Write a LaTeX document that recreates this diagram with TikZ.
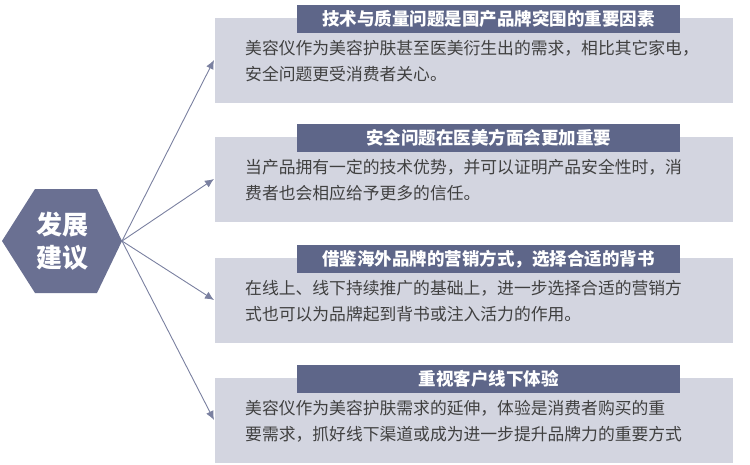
\documentclass[tikz,border=0pt]{standalone}
\usepackage{fontspec}
\setmainfont{Noto Sans CJK SC}
\definecolor{hexc}{HTML}{6A7092}
\definecolor{boxc}{HTML}{D3D5E0}
\definecolor{headc}{HTML}{5E6689}
\definecolor{txt}{HTML}{404040}
\definecolor{arr}{HTML}{7A80A0}
\begin{document}
\begin{tikzpicture}[x=1pt,y=-1pt,
  bx/.style={fill=boxc,draw=none},
  hd/.style={fill=headc,text=white,font=\fontsize{17.5}{19}\selectfont\bfseries,inner sep=0pt,minimum width=383pt,minimum height=28pt},
  body/.style={text=txt,font=\fontsize{16.8}{26}\selectfont,align=left,anchor=north west,inner sep=0pt},
  ar/.style={draw=arr,line width=0.9pt,-{Latex[length=9pt,width=8pt]}}]
\usetikzlibrary{arrows.meta}
\useasboundingbox (0,0) rectangle (750,464);
\fill[hexc] (2,241) -- (35,189) -- (97,189) -- (122,241) -- (97,293) -- (35,293) -- cycle;
\node[text=white,font=\fontsize{26}{33}\selectfont\bfseries,align=center] (hex) at (62,241) {发展\\建议};
\coordinate (o) at (122,241);
\foreach \i/\t/\h/\la/\lb in {
 1/18/技术与质量问题是国产品牌突围的重要因素/美容仪作为美容护肤甚至医美衍生出的需求，相比其它家电，/安全问题更受消费者关心。,
 2/137/安全问题在医美方面会更加重要/当产品拥有一定的技术优势，并可以证明产品安全性时，消/费者也会相应给予更多的信任。,
 3/258/借鉴海外品牌的营销方式，选择合适的背书/在线上、线下持续推广的基础上，进一步选择合适的营销方/式也可以为品牌起到背书或注入活力的作用。,
 4/378/重视客户线下体验/美容仪作为美容护肤需求的延伸，体验是消费者购买的重/要需求，抓好线下渠道或成为进一步提升品牌力的重要方式}{
  \fill[boxc] (215,\t) rectangle (733,\t+85);
  \coordinate (b\i) at (214,\t+42);
  \node[hd] (h\i) at (488.5,\t+1) {\h};
  \node[body] (t\i) at (245,\t+22) {\la\\\lb};
  \draw[ar] (o) -- (b\i);
}
\end{tikzpicture}
\end{document}
